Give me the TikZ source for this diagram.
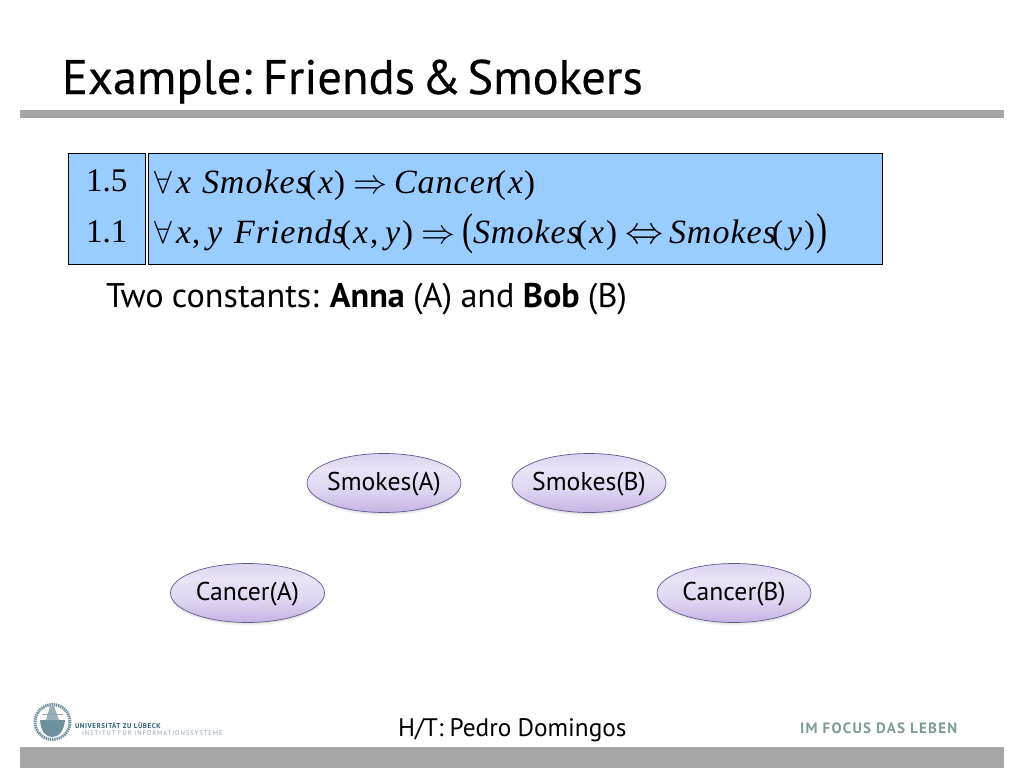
\documentclass[tikz,border=0pt]{standalone}
\usepackage{fontspec}
\setmainfont{PT Sans}
\newfontfamily\frm{Liberation Serif}
\newfontfamily\frmi[LetterSpace=3]{Liberation Serif Italic}
\newfontfamily\titlef[WordSpace=0.5,FakeBold=0.3]{PT Sans}
\newfontfamily\tightf[WordSpace=0.4]{PT Sans}
\newfontfamily\consf[WordSpace=0.9]{PT Sans}
\usetikzlibrary{shapes.geometric}
\definecolor{boxblue}{HTML}{99CCFF}
\definecolor{bargray}{HTML}{A6A6A6}
\definecolor{teal1}{HTML}{7F9A98}
\definecolor{logoblue}{HTML}{2F5F75}
\definecolor{logogray}{HTML}{8FA5AE}
\definecolor{ellA}{HTML}{C5B4E4}
\definecolor{ellB}{HTML}{E0D6F1}
\definecolor{ellC}{HTML}{EAE4F6}
\definecolor{ellD}{HTML}{DCD2EF}
\definecolor{ellline}{HTML}{5F5A8C}
\pgfdeclareverticalshading{ellshade}{100bp}{color(0bp)=(ellA); color(25bp)=(ellA); color(45bp)=(ellB); color(62bp)=(ellC); color(75bp)=(ellD); color(100bp)=(ellD)}
\newcommand\lbl[1]{\makebox[0pt]{\raisebox{-15pt}{\smash{#1}}}}
\newcommand\sym[2]{\scalebox{#1}{$#2$}}
\newcommand\tallp[1]{\scalebox{1}[1.35]{#1}}
\tikzset{
  plain/.style={inner sep=0pt,outer sep=0pt,anchor=base west,text=black},
  formula/.style={plain,font=\frm\fontsize{33}{33}\selectfont},
  fm/.style={plain,font=\frmi\fontsize{34}{34}\selectfont},
  formbox/.style={draw=black,line width=0.8pt,fill=boxblue},
  bar/.style={fill=bargray,draw=none},
  state/.style={ellipse,draw=ellline,line width=0.7pt,shading=ellshade,minimum width=154pt,minimum height=59pt,inner sep=0pt,
    font=\fontsize{25.7}{25.7}\selectfont,text=black,
    preaction={fill=black,opacity=.05,transform canvas={yshift=-3pt}},
    preaction={fill=black,opacity=.06,transform canvas={yshift=-1.5pt}}},
}
\begin{document}
\begin{tikzpicture}[x=1pt,y=-1pt]
\useasboundingbox (0,0) rectangle (1024,768);
\fill[white] (0,0) rectangle (1024,768);
\node[plain,font=\titlef\fontsize{48.5}{48.5}\selectfont] (title) at (62,94) {Example: Friends \& Smokers};
\fill[bar] (20,110) rectangle (1004,118);
\fill[bar] (20,747) rectangle (1004,768);
\draw[formbox] (68,153) rectangle (145.6,264);
\draw[formbox] (148.6,153) rectangle (882.6,264);
\node[formula] (w1) at (86,191) {1.5};
\node[formula] (w2) at (86,242) {1.1};
% first formula
\node[plain] (f1a) at (154,193) {\sym{3.2}{\forall}};
\node[fm] (f1b) at (176,193) {x};
\node[fm] (f1c) at (202,193) {Smokes};
\node[formula] (f1d) at (305,193) {(};
\node[fm] (f1e) at (318,193) {x};
\node[formula] (f1f) at (334,193) {)};
\node[plain] (f1g) at (353,193) {\sym{3.4}{\Rightarrow}};
\node[fm] (f1h) at (394,193) {Cancer};
\node[formula] (f1i) at (495,193) {(};
\node[fm] (f1j) at (508,193) {x};
\node[formula] (f1k) at (524,193) {)};
% second formula
\node[plain] (f2a) at (154,243.5) {\sym{3.2}{\forall}};
\node[fm] (f2b) at (176,243.5) {x};
\node[formula] (f2c) at (192,243.5) {,};
\node[fm] (f2d) at (207,243.5) {y};
\node[fm] (f2e) at (234,243.5) {Friends};
\node[formula] (f2f) at (340,243.5) {(};
\node[fm] (f2g) at (353,243.5) {x};
\node[formula] (f2h) at (370,243.5) {,};
\node[fm] (f2i) at (385,243.5) {y};
\node[formula] (f2j) at (402,243.5) {)};
\node[plain] (f2k) at (421,243.5) {\sym{3.4}{\Rightarrow}};
\node[formula] (f2l) at (462,244.5) {\tallp{(}};
\node[fm] (f2m) at (473,243.5) {Smokes};
\node[formula] (f2n) at (576,243.5) {(};
\node[fm] (f2o) at (589,243.5) {x};
\node[formula] (f2p) at (606,243.5) {)};
\node[plain] (f2q) at (625,243.5) {\sym{3.8}{\Leftrightarrow}};
\node[fm] (f2r) at (669,243.5) {Smokes};
\node[formula] (f2s) at (772,243.5) {(};
\node[fm] (f2t) at (787,243.5) {y};
\node[formula] (f2u) at (804,243.5) {)};
\node[formula] (f2v) at (816,244.5) {\tallp{)}};
\node[plain,font=\consf\fontsize{34.2}{34.2}\selectfont] (consts) at (106,307) {Two constants: \textbf{Anna} (A) and \textbf{Bob} (B)};
\node[state] (sa) at (384,483) {\lbl{Smokes(A)}};
\node[state] (sb) at (589,483) {\lbl{Smokes(B)}};
\node[state] (ca) at (247.5,593) {\lbl{Cancer(A)}};
\node[state] (cb) at (734,593) {\lbl{Cancer(B)}};
\node[plain,font=\tightf\fontsize{25.3}{25.3}\selectfont] (ht) at (398,736) {H/T: Pedro Domingos};
\node[plain,font=\bfseries\addfontfeature{LetterSpace=8.5}\fontsize{15}{15}\selectfont,text=teal1] (focus) at (800,733) {IM FOCUS DAS LEBEN};
\node[plain,font=\bfseries\addfontfeature{LetterSpace=8}\fontsize{7}{7}\selectfont,text=logoblue] (uni) at (75,728) {UNIVERSITÄT ZU LÜBECK};
\node[plain,font=\addfontfeature{LetterSpace=14}\fontsize{6.6}{6.6}\selectfont,text=logogray] (inst) at (82,735) {INSTITUT FÜR INFORMATIONSSYSTEME};
% seal
\draw[logoblue!70!white,line width=3pt,dash pattern=on 1.4pt off .8pt] (52.5,722) circle (17.5);
\fill[logoblue!70!white] (40,720) -- (65,720) .. controls (64,732) and (58,737) .. (52,737) .. controls (46,737) and (41,732) .. (40,720) -- cycle;
\fill[logoblue!50!white] (46,720) -- (50,706) -- (54,706) -- (59,720) -- cycle;
\draw[logogray,line width=1pt] (42,714) -- (63,714);
\end{tikzpicture}
\end{document}
